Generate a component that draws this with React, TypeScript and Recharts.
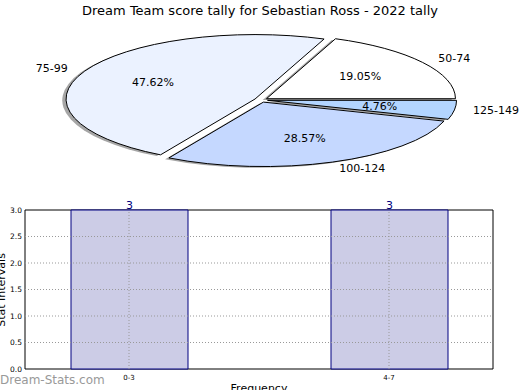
import React from "react";
import {
  PieChart,
  Pie,
  BarChart,
  Bar,
  XAxis,
  YAxis,
  LabelList,
  ReferenceArea,
  ReferenceLine,
} from "recharts";

const SLICE_NAMES = ["50-74", "75-99", "100-124", "125-149"];
const SLICE_COUNTS = [4, 10, 6, 1];
const FREQ_LABELS = ["0-3", "4-7"];
const FREQ_COUNTS = [3, 3];
const FREQ_POS = [0, 1];
const Y_TICKS = [0, 0.5, 1, 1.5, 2, 2.5, 3];

const SLICE_COLORS = ["#ffffff", "#ebf2ff", "#c5d8ff", "#b3d5ff"];
const FONT = "DejaVu Sans, sans-serif";
const RAD = Math.PI / 180;
const SQUASH = 0.341; // pie is drawn squashed into an ellipse
const EXPLODE = 0.035;

const pieData = SLICE_NAMES.map((name, i) => ({ name, value: SLICE_COUNTS[i] }));
const barData = FREQ_LABELS.map((label, i) => ({ pos: FREQ_POS[i], label, count: FREQ_COUNTS[i] }));

// point on the ellipse, angle in degrees counter-clockwise from 3 o'clock
const ell = (cx: number, cy: number, r: number, a: number, k: number) => [
  cx + k * r * Math.cos(a * RAD),
  cy - k * r * SQUASH * Math.sin(a * RAD),
];

const wedgeOrigin = (p: any) => {
  const mid = (p.startAngle + p.endAngle) / 2;
  return ell(p.cx, p.cy, p.outerRadius, mid, EXPLODE);
};

const wedgePath = (p: any, dx = 0, dy = 0) => {
  const [ox, oy] = wedgeOrigin(p);
  const x = ox + dx;
  const y = oy + dy;
  const [x0, y0] = ell(x, y, p.outerRadius, p.startAngle, 1);
  const [x1, y1] = ell(x, y, p.outerRadius, p.endAngle, 1);
  const large = p.endAngle - p.startAngle > 180 ? 1 : 0;
  return `M${x},${y}L${x0},${y0}A${p.outerRadius},${p.outerRadius * SQUASH} 0 ${large} 0 ${x1},${y1}Z`;
};

const renderShadow = (p: any) => (
  <path
    d={wedgePath(p, -0.02 * p.outerRadius, 0.02 * p.outerRadius * SQUASH)}
    fill="#4d4d4d"
    fillOpacity={0.5}
    stroke="none"
  />
);

const renderWedge = (p: any) => (
  <path d={wedgePath(p)} fill={SLICE_COLORS[p.index]} stroke="#000" strokeWidth={1} />
);

const renderText = (p: any) => {
  const mid = (p.startAngle + p.endAngle) / 2;
  const [ox, oy] = wedgeOrigin(p);
  const [px, py] = ell(ox, oy, p.outerRadius, mid, 0.6);
  const [lx, ly] = ell(ox, oy, p.outerRadius, mid, 1.1);
  const right = Math.cos(mid * RAD) > 0;
  return (
    <g fontFamily={FONT} fontSize={11} fill="#000">
      <text x={px} y={py} textAnchor="middle" dominantBaseline="central">
        {(p.percent * 100).toFixed(2)}%
      </text>
      <text x={lx} y={ly} textAnchor={right ? "start" : "end"} dominantBaseline="central">
        {p.name}
      </text>
    </g>
  );
};

const pieCommon = {
  data: pieData,
  dataKey: "value",
  nameKey: "name",
  cx: 261,
  cy: 100,
  outerRadius: 189,
  startAngle: 0,
  endAngle: 360,
  fill: "none",
  stroke: "none",
  labelLine: false,
  isAnimationActive: false,
};

const App = () => {
  return (
    <div style={{ position: "absolute", left: 0, top: 0, width: 520, height: 390, background: "#fff" }}>
      <div style={{ position: "absolute", left: 0, top: 0 }}>
        <PieChart width={520} height={190} margin={{ top: 0, right: 0, bottom: 0, left: 0 }}>
          <text x={260} y={10} textAnchor="middle" dominantBaseline="central" fontFamily={FONT} fontSize={13} fill="#000">
            Dream Team score tally for Sebastian Ross - 2022 tally
          </text>
          <Pie {...pieCommon} label={renderShadow} />
          <Pie {...pieCommon} label={renderWedge} />
          <Pie {...pieCommon} label={renderText} />
        </PieChart>
      </div>
      <div style={{ position: "absolute", left: 0, top: 190 }}>
        <BarChart width={520} height={205} data={barData} margin={{ top: 20, right: 27, bottom: 6, left: 0 }}>
          <XAxis
            type="number"
            dataKey="pos"
            domain={[-0.4, 1.4]}
            ticks={FREQ_POS}
            interval={0}
            allowDataOverflow
            tickFormatter={(v) => FREQ_LABELS[v]}
            height={20}
            tickSize={0}
            tickMargin={6}
            axisLine={false}
            tick={{ fontSize: 7, fill: "#000", fontFamily: FONT }}
          />
          <YAxis
            domain={[0, 3]}
            ticks={Y_TICKS}
            interval={0}
            width={25}
            tickSize={0}
            tickMargin={3}
            axisLine={false}
            tickFormatter={(v) => v.toFixed(1)}
            tick={{ fontSize: 7.5, fill: "#000", fontFamily: FONT }}
          />
          <Bar dataKey="count" barSize={117} fill="#ccccE6" stroke="#000080" strokeWidth={1} isAnimationActive={false}>
            <LabelList dataKey="count" position="top" offset={1} fill="#000080" fontSize={11} fontFamily={FONT} />
          </Bar>
          {Y_TICKS.slice(1, -1).map((t) => (
            <ReferenceLine key={"y" + t} y={t} stroke="#999" strokeDasharray="1 2" />
          ))}
          {FREQ_POS.map((t) => (
            <ReferenceLine key={"x" + t} x={t} stroke="#999" strokeDasharray="1 2" />
          ))}
          <ReferenceArea x1={-0.4} x2={1.4} y1={0} y2={3} fill="none" stroke="#000" strokeWidth={1} ifOverflow="visible" />
          <text x={0} y={0} transform="translate(5,100) rotate(-90)" textAnchor="middle" fontFamily={FONT} fontSize={11} fill="#000">
            Stat Intervals
          </text>
          <text x={259} y={202} textAnchor="middle" fontFamily={FONT} fontSize={11} fill="#000">
            Frequency
          </text>
          <text x={0} y={194} fontFamily={FONT} fontSize={12} fill="#999">
            Dream-Stats.com
          </text>
        </BarChart>
      </div>
    </div>
  );
};

export default App;
